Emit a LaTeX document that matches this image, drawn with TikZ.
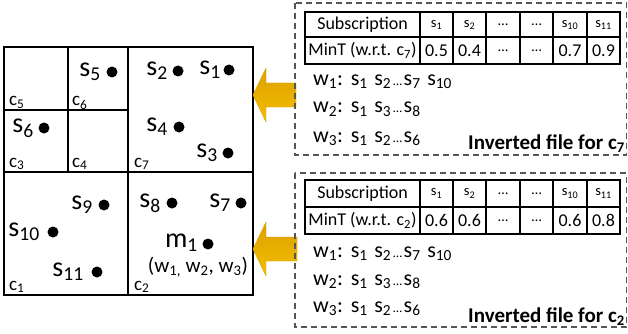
\documentclass[tikz,border=0pt]{standalone}
\usepackage{fontspec}
\setmainfont{Carlito}
\definecolor{arrtop}{HTML}{DCA000}
\definecolor{arrbot}{HTML}{F4BE00}
\definecolor{dashgray}{HTML}{555555}
\tikzset{
  gridline/.style={line width=2.2pt, line cap=rect},
  tabline/.style={line width=1.8pt},
  dot/.style={circle, fill=black, inner sep=0pt, minimum size=11pt},
  slabel/.style={font=\fontsize{28}{30}\selectfont, inner sep=0pt, anchor=east},
  clabel/.style={font=\fontsize{19}{21}\selectfont, inner sep=0pt, anchor=base west},
  cellA/.style={font=\fontsize{18}{20}\selectfont, inner sep=0pt},
  cellS/.style={font=\fontsize{14.5}{16}\selectfont, inner sep=0pt},
  listtext/.style={font=\fontsize{22}{24}\selectfont, inner sep=0pt, anchor=base west},
  boldtitle/.style={font=\fontsize{21}{23}\selectfont\bfseries, inner sep=0pt, anchor=base east},
  dashbox/.style={draw=dashgray, line width=1.1pt, dash pattern=on 6pt off 4pt},
  bigarrow/.style={top color=arrtop, bottom color=arrbot, draw=arrtop, line width=0.4pt}
}
\newcommand{\elps}{\hspace{0.08em}{\fontsize{13}{13}\selectfont …}\hspace{0.08em}}
\newcommand{\wsep}{\hspace{0.3em}}
\newcommand{\csep}{\hspace{0.35em}}
\begin{document}
\begin{tikzpicture}[x=1pt,y=-1pt]
\useasboundingbox (0,0) rectangle (628,334);
% ---------------- grid ----------------
\draw[gridline] (4,47) rectangle (253,295);
\draw[gridline] (4,172) -- (253,172);
\draw[gridline] (128,47) -- (128,295);
\draw[gridline] (4,110) -- (128,110);
\draw[gridline] (68,47) -- (68,172);
% cell labels
\node[clabel] (c5) at (9,106) {c\textsubscript{5}};
\node[clabel] (c6) at (72,106) {c\textsubscript{6}};
\node[clabel] (c3) at (9,167) {c\textsubscript{3}};
\node[clabel] (c4) at (72,167) {c\textsubscript{4}};
\node[clabel] (c7) at (134,167) {c\textsubscript{7}};
\node[clabel] (c1) at (9,290) {c\textsubscript{1}};
\node[clabel] (c2) at (134,290) {c\textsubscript{2}};
% points
\node[dot] (d5) at (112,72) {};  \node[slabel] (s5) at (101,72) {s\textsubscript{5}};
\node[dot] (d2) at (178,71) {};  \node[slabel] (s2) at (168,71) {s\textsubscript{2}};
\node[dot] (d1) at (229,70) {};  \node[slabel] (s1) at (221,70) {s\textsubscript{1}};
\node[dot] (d6) at (44,128) {};  \node[slabel] (s6) at (34,128) {s\textsubscript{6}};
\node[dot] (d4) at (179,127) {}; \node[slabel] (s4) at (168,127) {s\textsubscript{4}};
\node[dot] (d3) at (228,153) {}; \node[slabel] (s3) at (218,153) {s\textsubscript{3}};
\node[dot] (d9) at (104,205) {}; \node[slabel] (s9) at (93,205) {s\textsubscript{9}};
\node[dot] (d10) at (53,232) {}; \node[slabel] (s10) at (40,232) {s\textsubscript{10}};
\node[dot] (d11) at (97,272) {}; \node[slabel] (s11) at (84,272) {s\textsubscript{11}};
\node[dot] (d8) at (172,203) {}; \node[slabel] (s8) at (161,203) {s\textsubscript{8}};
\node[dot] (d7) at (241,203) {}; \node[slabel] (s7) at (231,203) {s\textsubscript{7}};
\node[dot] (dm) at (208,244) {}; \node[slabel] (m1) at (198,243) {m\textsubscript{1}};
\node[font=\fontsize{21}{23}\selectfont, inner sep=0pt] (mw) at (198,267) {(w\textsubscript{1,} w\textsubscript{2}, w\textsubscript{3})};
% ---------------- arrows ----------------
\shade[bigarrow] (253,95) -- (266,68) -- (266,83) -- (296,83) -- (296,107) -- (266,107) -- (266,122) -- cycle;
\shade[bigarrow] (253,249) -- (266,222) -- (266,237) -- (297,237) -- (297,261) -- (266,261) -- (266,276) -- cycle;
% ---------------- top inverted file ----------------
\draw[dashbox] (295,3) rectangle (626.5,155);
\draw[tabline] (305,12) rectangle (620,64);
\draw[tabline] (305,37) -- (620,37);
\foreach \x in {420,453,486,520,553,587} \draw[tabline] (\x,12) -- (\x,64);
\node[cellA] (ta0) at (362.5,25) {Subscription};
\node[cellS] (ta1) at (436.5,25) {s\textsubscript{1}};
\node[cellS] (ta2) at (469.5,25) {s\textsubscript{2}};
\node[cellS] (ta3) at (503,25) {…};
\node[cellS] (ta4) at (536.5,25) {…};
\node[cellS] (ta5) at (570,25) {s\textsubscript{10}};
\node[cellS] (ta6) at (603.5,25) {s\textsubscript{11}};
\node[cellA] (tb0) at (362.5,50.5) {MinT (w.r.t. c\textsubscript{7})};
\node[cellA] (tb1) at (436.5,50.5) {0.5};
\node[cellA] (tb2) at (469.5,50.5) {0.4};
\node[cellS] (tb3) at (503,50.5) {…};
\node[cellS] (tb4) at (536.5,50.5) {…};
\node[cellA] (tb5) at (570,50.5) {0.7};
\node[cellA] (tb6) at (603.5,50.5) {0.9};
\node[listtext] (la1) at (313,85) {w\textsubscript{1}:\csep s\textsubscript{1}\wsep s\textsubscript{2}\elps s\textsubscript{7}\wsep s\textsubscript{10}};
\node[listtext] (la2) at (313,113) {w\textsubscript{2}:\csep s\textsubscript{1}\wsep s\textsubscript{3}\elps s\textsubscript{8}};
\node[listtext] (la3) at (313,142) {w\textsubscript{3}:\csep s\textsubscript{1}\wsep s\textsubscript{2}\elps s\textsubscript{6}};
\node[boldtitle] (ifa) at (625,149) {Inverted file for c\textsubscript{7}};
% ---------------- bottom inverted file ----------------
\draw[dashbox] (295,173) rectangle (626.5,327);
\draw[tabline] (305,180) rectangle (620,234);
\draw[tabline] (305,207) -- (620,207);
\foreach \x in {420,453,486,520,553,587} \draw[tabline] (\x,180) -- (\x,234);
\node[cellA] (tc0) at (362.5,193.5) {Subscription};
\node[cellS] (tc1) at (436.5,193.5) {s\textsubscript{1}};
\node[cellS] (tc2) at (469.5,193.5) {s\textsubscript{2}};
\node[cellS] (tc3) at (503,193.5) {…};
\node[cellS] (tc4) at (536.5,193.5) {…};
\node[cellS] (tc5) at (570,193.5) {s\textsubscript{10}};
\node[cellS] (tc6) at (603.5,193.5) {s\textsubscript{11}};
\node[cellA] (td0) at (362.5,220.5) {MinT (w.r.t. c\textsubscript{2})};
\node[cellA] (td1) at (436.5,220.5) {0.6};
\node[cellA] (td2) at (469.5,220.5) {0.6};
\node[cellS] (td3) at (503,220.5) {…};
\node[cellS] (td4) at (536.5,220.5) {…};
\node[cellA] (td5) at (570,220.5) {0.6};
\node[cellA] (td6) at (603.5,220.5) {0.8};
\node[listtext] (lb1) at (313,257) {w\textsubscript{1}:\csep s\textsubscript{1}\wsep s\textsubscript{2}\elps s\textsubscript{7}\wsep s\textsubscript{10}};
\node[listtext] (lb2) at (313,285) {w\textsubscript{2}:\csep s\textsubscript{1}\wsep s\textsubscript{3}\elps s\textsubscript{8}};
\node[listtext] (lb3) at (313,312) {w\textsubscript{3}:\csep s\textsubscript{1}\wsep s\textsubscript{2}\elps s\textsubscript{6}};
\node[boldtitle] (ifb) at (625,322) {Inverted file for c\textsubscript{2}};
\end{tikzpicture}
\end{document}
